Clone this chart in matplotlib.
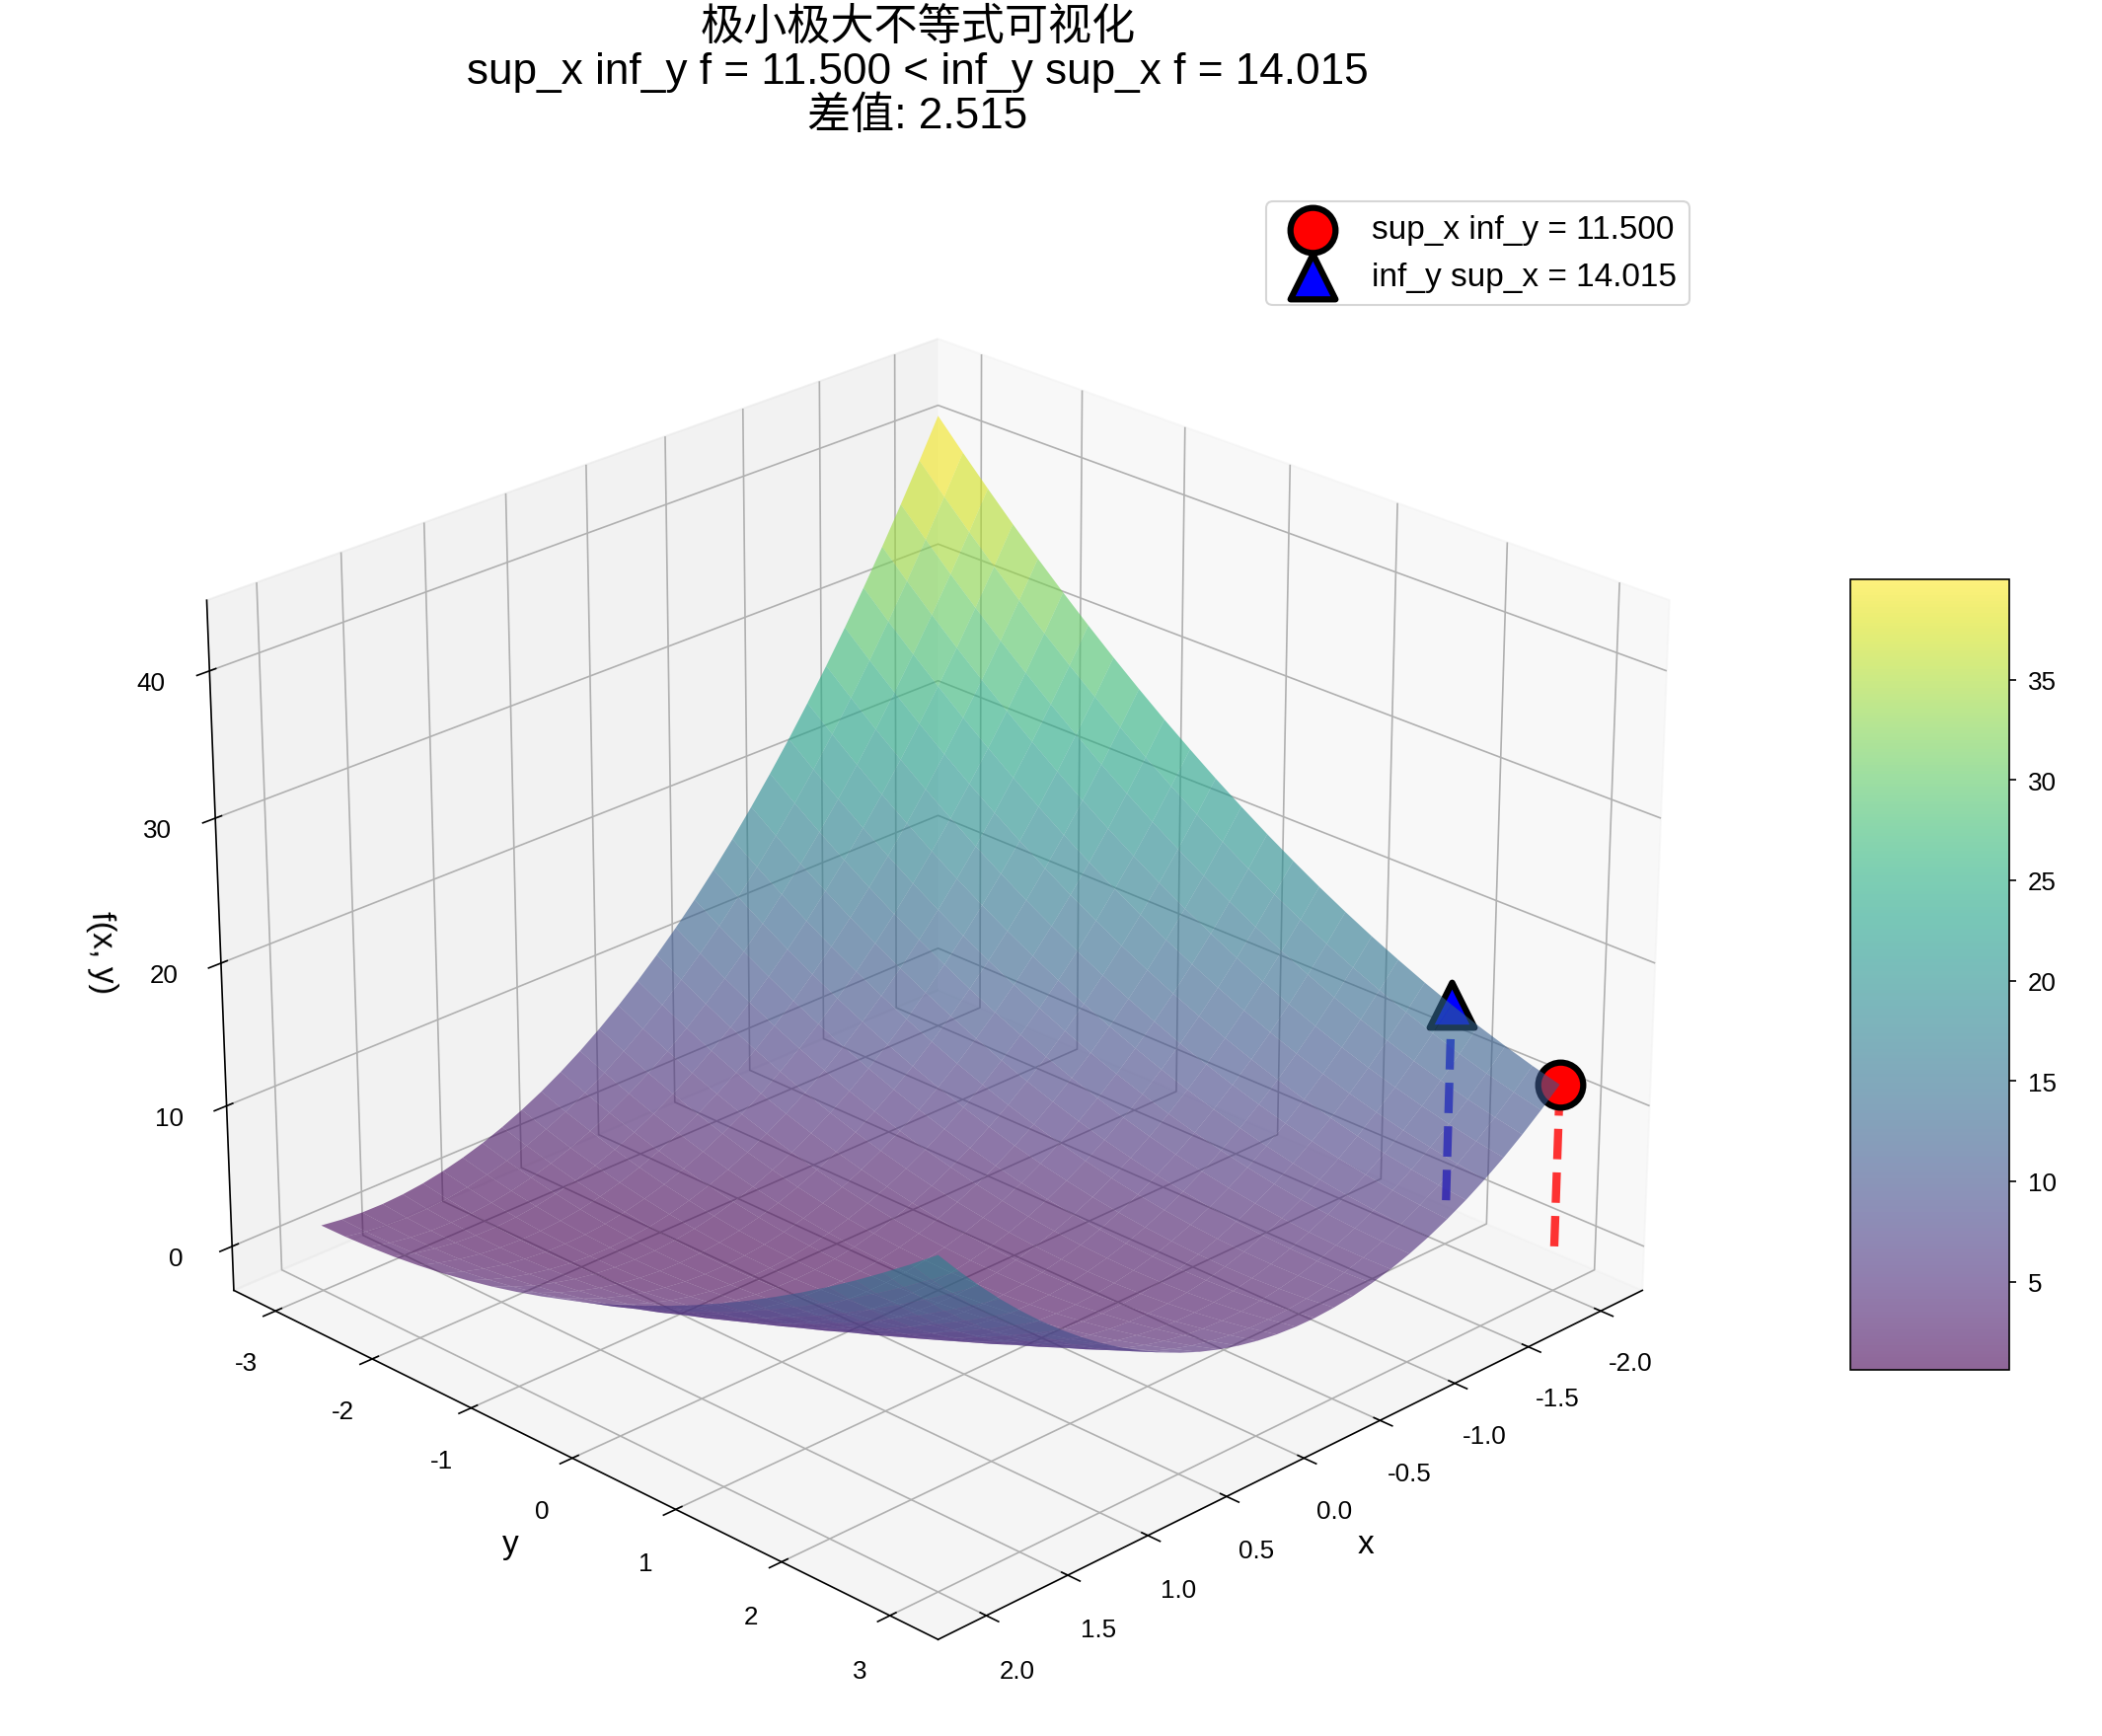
import matplotlib
matplotlib.use('Agg')
import matplotlib.pyplot as plt
import numpy as np

plt.rcParams['font.family'] = ['Liberation Sans', 'Noto Sans CJK SC']
plt.rcParams['axes.unicode_minus'] = False

x_vals = [-2.0, -1.875, -1.75, -1.625, -1.5, -1.375, -1.25, -1.125, -1.0, -0.875, -0.75, -0.625, -0.5, -0.375,
          -0.25, -0.125, 0.0, 0.125, 0.25, 0.375, 0.5, 0.625, 0.75, 0.875, 1.0, 1.125, 1.25, 1.375, 1.5, 1.625,
          1.75, 1.875, 2.0]
y_vals = [-3.0, -2.75, -2.5, -2.25, -2.0, -1.75, -1.5, -1.25, -1.0, -0.75, -0.5, -0.25, 0.0,
          0.25, 0.5, 0.75, 1.0, 1.25, 1.5, 1.75, 2.0, 2.25, 2.5, 2.75, 3.0]

# surface heights, one row per x, one column per y
z_vals = [
    [41.5, 39.53, 37.63, 35.78, 34.0, 32.28, 30.63, 29.03, 27.5, 26.03, 24.63, 23.28, 22.0,
     20.78, 19.63, 18.53, 17.5, 16.53, 15.63, 14.78, 14.0, 13.28, 12.63, 12.03, 11.5],
    [38.8, 36.89, 35.05, 33.27, 31.55, 29.89, 28.3, 26.77, 25.3, 23.89, 22.55, 21.27, 20.05,
     18.89, 17.8, 16.77, 15.8, 14.89, 14.05, 13.27, 12.55, 11.89, 11.3, 10.77, 10.3],
    [36.19, 34.35, 32.56, 30.85, 29.19, 27.6, 26.06, 24.6, 23.19, 21.85, 20.56, 19.35, 18.19,
     17.1, 16.06, 15.1, 14.19, 13.35, 12.56, 11.85, 11.19, 10.6, 10.06, 9.6, 9.19],
    [33.67, 31.89, 30.17, 28.51, 26.92, 25.39, 23.92, 22.51, 21.17, 19.89, 18.67, 17.51, 16.42,
     15.39, 14.42, 13.51, 12.67, 11.89, 11.17, 10.51, 9.92, 9.39, 8.92, 8.51, 8.17],
    [31.25, 29.53, 27.88, 26.28, 24.75, 23.28, 21.88, 20.53, 19.25, 18.03, 16.88, 15.78, 14.75,
     13.78, 12.88, 12.03, 11.25, 10.53, 9.88, 9.28, 8.75, 8.28, 7.88, 7.53, 7.25],
    [28.92, 27.26, 25.67, 24.14, 22.67, 21.26, 19.92, 18.64, 17.42, 16.26, 15.17, 14.14, 13.17,
     12.26, 11.42, 10.64, 9.92, 9.26, 8.67, 8.14, 7.67, 7.26, 6.92, 6.64, 6.42],
    [26.69, 25.1, 23.56, 22.1, 20.69, 19.35, 18.06, 16.85, 15.69, 14.6, 13.56, 12.6, 11.69,
     10.85, 10.06, 9.35, 8.69, 8.1, 7.56, 7.1, 6.69, 6.35, 6.06, 5.85, 5.69],
    [24.55, 23.02, 21.55, 20.14, 18.8, 17.52, 16.3, 15.14, 14.05, 13.02, 12.05, 11.14, 10.3,
     9.52, 8.8, 8.14, 7.55, 7.02, 6.55, 6.14, 5.8, 5.52, 5.3, 5.14, 5.05],
    [22.5, 21.03, 19.63, 18.28, 17.0, 15.78, 14.63, 13.53, 12.5, 11.53, 10.63, 9.78, 9.0,
     8.28, 7.63, 7.03, 6.5, 6.03, 5.63, 5.28, 5.0, 4.78, 4.63, 4.53, 4.5],
    [20.55, 19.14, 17.8, 16.52, 15.3, 14.14, 13.05, 12.02, 11.05, 10.14, 9.3, 8.52, 7.8,
     7.14, 6.55, 6.02, 5.55, 5.14, 4.8, 4.52, 4.3, 4.14, 4.05, 4.02, 4.05],
    [18.69, 17.35, 16.06, 14.85, 13.69, 12.6, 11.56, 10.6, 9.69, 8.85, 8.06, 7.35, 6.69,
     6.1, 5.56, 5.1, 4.69, 4.35, 4.06, 3.85, 3.69, 3.6, 3.56, 3.6, 3.69],
    [16.92, 15.64, 14.42, 13.26, 12.17, 11.14, 10.17, 9.26, 8.42, 7.64, 6.92, 6.26, 5.67,
     5.14, 4.67, 4.26, 3.92, 3.64, 3.42, 3.26, 3.17, 3.14, 3.17, 3.26, 3.42],
    [15.25, 14.03, 12.88, 11.78, 10.75, 9.78, 8.88, 8.03, 7.25, 6.53, 5.88, 5.28, 4.75,
     4.28, 3.88, 3.53, 3.25, 3.03, 2.88, 2.78, 2.75, 2.78, 2.88, 3.03, 3.25],
    [13.67, 12.51, 11.42, 10.39, 9.42, 8.51, 7.67, 6.89, 6.17, 5.51, 4.92, 4.39, 3.92,
     3.51, 3.17, 2.89, 2.67, 2.51, 2.42, 2.39, 2.42, 2.51, 2.67, 2.89, 3.17],
    [12.19, 11.1, 10.06, 9.1, 8.19, 7.35, 6.56, 5.85, 5.19, 4.6, 4.06, 3.6, 3.19,
     2.85, 2.56, 2.35, 2.19, 2.1, 2.06, 2.1, 2.19, 2.35, 2.56, 2.85, 3.19],
    [10.8, 9.77, 8.8, 7.89, 7.05, 6.27, 5.55, 4.89, 4.3, 3.77, 3.3, 2.89, 2.55,
     2.27, 2.05, 1.89, 1.8, 1.77, 1.8, 1.89, 2.05, 2.27, 2.55, 2.89, 3.3],
    [9.5, 8.53, 7.63, 6.78, 6.0, 5.28, 4.63, 4.03, 3.5, 3.03, 2.63, 2.28, 2.0,
     1.78, 1.63, 1.53, 1.5, 1.53, 1.63, 1.78, 2.0, 2.28, 2.63, 3.03, 3.5],
    [8.3, 7.39, 6.55, 5.77, 5.05, 4.39, 3.8, 3.27, 2.8, 2.39, 2.05, 1.77, 1.55,
     1.39, 1.3, 1.27, 1.3, 1.39, 1.55, 1.77, 2.05, 2.39, 2.8, 3.27, 3.8],
    [7.19, 6.35, 5.56, 4.85, 4.19, 3.6, 3.06, 2.6, 2.19, 1.85, 1.56, 1.35, 1.19,
     1.1, 1.06, 1.1, 1.19, 1.35, 1.56, 1.85, 2.19, 2.6, 3.06, 3.6, 4.19],
    [6.17, 5.39, 4.67, 4.01, 3.42, 2.89, 2.42, 2.01, 1.67, 1.39, 1.17, 1.01, 0.92,
     0.89, 0.92, 1.01, 1.17, 1.39, 1.67, 2.01, 2.42, 2.89, 3.42, 4.01, 4.67],
    [5.25, 4.53, 3.88, 3.28, 2.75, 2.28, 1.88, 1.53, 1.25, 1.03, 0.88, 0.78, 0.75,
     0.78, 0.88, 1.03, 1.25, 1.53, 1.88, 2.28, 2.75, 3.28, 3.88, 4.53, 5.25],
    [4.42, 3.76, 3.17, 2.64, 2.17, 1.76, 1.42, 1.14, 0.92, 0.76, 0.67, 0.64, 0.67,
     0.76, 0.92, 1.14, 1.42, 1.76, 2.17, 2.64, 3.17, 3.76, 4.42, 5.14, 5.92],
    [3.69, 3.1, 2.56, 2.1, 1.69, 1.35, 1.06, 0.85, 0.69, 0.6, 0.56, 0.6, 0.69,
     0.85, 1.06, 1.35, 1.69, 2.1, 2.56, 3.1, 3.69, 4.35, 5.06, 5.85, 6.69],
    [3.05, 2.52, 2.05, 1.64, 1.3, 1.02, 0.8, 0.64, 0.55, 0.52, 0.55, 0.64, 0.8,
     1.02, 1.3, 1.64, 2.05, 2.52, 3.05, 3.64, 4.3, 5.02, 5.8, 6.64, 7.55],
    [2.5, 2.03, 1.63, 1.28, 1.0, 0.78, 0.63, 0.53, 0.5, 0.53, 0.63, 0.78, 1.0,
     1.28, 1.63, 2.03, 2.5, 3.03, 3.63, 4.28, 5.0, 5.78, 6.63, 7.53, 8.5],
    [2.05, 1.64, 1.3, 1.02, 0.8, 0.64, 0.55, 0.52, 0.55, 0.64, 0.8, 1.02, 1.3,
     1.64, 2.05, 2.52, 3.05, 3.64, 4.3, 5.02, 5.8, 6.64, 7.55, 8.52, 9.55],
    [1.69, 1.35, 1.06, 0.85, 0.69, 0.6, 0.56, 0.6, 0.69, 0.85, 1.06, 1.35, 1.69,
     2.1, 2.56, 3.1, 3.69, 4.35, 5.06, 5.85, 6.69, 7.6, 8.56, 9.6, 10.69],
    [1.42, 1.14, 0.92, 0.76, 0.67, 0.64, 0.67, 0.76, 0.92, 1.14, 1.42, 1.76, 2.17,
     2.64, 3.17, 3.76, 4.42, 5.14, 5.92, 6.76, 7.67, 8.64, 9.67, 10.76, 11.92],
    [1.25, 1.03, 0.88, 0.78, 0.75, 0.78, 0.88, 1.03, 1.25, 1.53, 1.88, 2.28, 2.75,
     3.28, 3.88, 4.53, 5.25, 6.03, 6.88, 7.78, 8.75, 9.78, 10.88, 12.03, 13.25],
    [1.17, 1.01, 0.92, 0.89, 0.92, 1.01, 1.17, 1.39, 1.67, 2.01, 2.42, 2.89, 3.42,
     4.01, 4.67, 5.39, 6.17, 7.01, 7.92, 8.89, 9.92, 11.01, 12.17, 13.39, 14.67],
    [1.19, 1.1, 1.06, 1.1, 1.19, 1.35, 1.56, 1.85, 2.19, 2.6, 3.06, 3.6, 4.19,
     4.85, 5.56, 6.35, 7.19, 8.1, 9.06, 10.1, 11.19, 12.35, 13.56, 14.85, 16.19],
    [1.3, 1.27, 1.3, 1.39, 1.55, 1.77, 2.05, 2.39, 2.8, 3.27, 3.8, 4.39, 5.05,
     5.77, 6.55, 7.39, 8.3, 9.27, 10.3, 11.39, 12.55, 13.77, 15.05, 16.39, 17.8],
    [1.5, 1.53, 1.63, 1.78, 2.0, 2.28, 2.63, 3.03, 3.5, 4.03, 4.63, 5.28, 6.0,
     6.78, 7.63, 8.53, 9.5, 10.53, 11.63, 12.78, 14.0, 15.28, 16.63, 18.03, 19.5],
]

maximin_point = (-2.0, 3.0, 11.5)
minimax_point = (-2.0, 2.0, 14.015)

x_ticks = [-2.0, -1.5, -1.0, -0.5, 0.0, 0.5, 1.0, 1.5, 2.0]
y_ticks = [-3, -2, -1, 0, 1, 2, 3]
z_ticks = [0, 10, 20, 30, 40]
cbar_ticks = [5, 10, 15, 20, 25, 30, 35]

W, H = 2130, 1760
fig = plt.figure(figsize=(W / 150, H / 150), dpi=150)

# position in pixels from the top left
side = 1598
ax = fig.add_axes([(929 - side / 2) / W, 1 - (987 + side / 2) / H, side / W, side / H], projection='3d')

X, Y = np.meshgrid(x_vals, y_vals, indexing='ij')
Z = np.array(z_vals)
surf = ax.plot_surface(X, Y, Z, cmap='viridis', alpha=0.6, rstride=1, cstride=1, vmin=0.6, vmax=40)

ax.scatter(*[[v] for v in maximin_point], color='red', s=480, marker='o', edgecolors='black', linewidths=3,
           depthshade=False, label='sup_x inf_y = %.3f' % maximin_point[2])
ax.scatter(*[[v] for v in minimax_point], color='blue', s=480, marker='^', edgecolors='black', linewidths=3,
           depthshade=False, label='inf_y sup_x = %.3f' % minimax_point[2])

ax.plot([maximin_point[0]] * 2, [maximin_point[1]] * 2, [0, maximin_point[2]], 'r--', linewidth=4, alpha=0.8)
ax.plot([minimax_point[0]] * 2, [minimax_point[1]] * 2, [0, minimax_point[2]], 'b--', linewidth=4, alpha=0.8)

ax.view_init(elev=25, azim=45)
ax.set_zlim(-3.16, 44.74, view_margin=0)
ax.set_xticks(x_ticks)
ax.set_yticks(y_ticks)
ax.set_zticks(z_ticks)
ax.tick_params(labelsize=12.5, pad=8)
ax.set_xlabel('x', fontsize=16, labelpad=12)
ax.set_ylabel('y', fontsize=16, labelpad=12)
ax.set_zlabel('f(x, y)', fontsize=16, labelpad=12)

ax.legend(loc='upper right', bbox_to_anchor=(1712 / W, 1 - 205 / H), bbox_transform=fig.transFigure,
          borderaxespad=0, fontsize=16)

cax = fig.add_axes([1875 / W, 1 - 1389 / H, 161 / W, 801 / H])
cbar = fig.colorbar(surf, cax=cax)
cbar.set_ticks(cbar_ticks)
cbar.ax.tick_params(labelsize=12.5, pad=5.5)

fig.text(930 / W, 1 - 8 / H, '极小极大不等式可视化\nsup_x inf_y f = %.3f < inf_y sup_x f = %.3f\n差值: %.3f'
         % (maximin_point[2], minimax_point[2], minimax_point[2] - maximin_point[2]),
         ha='center', va='top', fontsize=21.2, linespacing=1.12)

fig.savefig('out.png', dpi=150)
